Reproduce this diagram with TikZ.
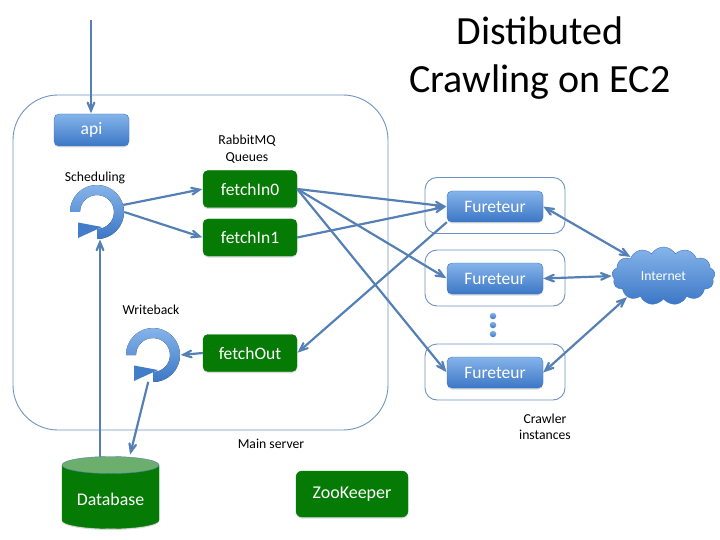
\documentclass[tikz,border=0pt]{standalone}
\usepackage{fontspec}
\setmainfont{Carlito}
\usepackage{xcolor}
\usetikzlibrary{arrows}
\usetikzlibrary{shadows}
\usetikzlibrary{shapes.symbols}
\definecolor{linkblue}{HTML}{5580B5}
\definecolor{boxgreen}{HTML}{057A05}
\definecolor{lidgreen}{HTML}{6CAE6C}
\definecolor{toplight}{HTML}{85B4EA}
\definecolor{botdark}{HTML}{3C77C6}
\tikzset{
  softshadow/.style={drop shadow={opacity=.3,shadow xshift=0pt,shadow yshift=-1.5pt}},
  queue/.style={draw=boxgreen,fill=boxgreen,rounded corners=5,text=white,font=\fontsize{17.5}{17.5}\selectfont,
    minimum width=94,minimum height=37,inner sep=0,softshadow},
  worker/.style={top color=toplight,bottom color=botdark,draw=botdark,rounded corners=5,text=white,
    font=\fontsize{17.5}{17.5}\selectfont,minimum width=96,minimum height=31,inner sep=0,softshadow},
  frame/.style={draw=linkblue!85,fill=white,line width=0.9,rounded corners=12,minimum width=140,minimum height=56,inner sep=0},
  note/.style={align=center,font=\fontsize{13.7}{16.5}\selectfont,inner sep=0},
  dotty/.style={circle,top color=toplight,bottom color=botdark,minimum size=6.5,inner sep=0},
  link/.style={draw=linkblue,line width=2.2,->,>=angle 45,shorten >=0.5},
  twolink/.style={link,<->},
  cyc/.pic={
    \fill[top color=toplight,bottom color=botdark]
      (-27,0) arc[start angle=180,end angle=450,radius=27]
      -- (0,17) arc[start angle=450,end angle=180,radius=17] -- cycle;
    \fill[botdark!90!toplight] (-19,10.5) -- (5,15) -- (-19,26) -- cycle;
  },
}
\begin{document}
\begin{tikzpicture}[x=1pt,y=-1pt]
    \useasboundingbox (0,0) rectangle (720,540);
    %
    \node[draw=linkblue!85,line width=0.9,rounded corners=45,minimum width=375,minimum height=335,inner sep=0] (mainbox) at (200.5,262.5) {};
    \node[frame] (slot1) at (495,205.5) {};
    \node[frame] (slot2) at (495,278) {};
    \node[frame] (slot3) at (495,372) {};
    %
    \node[align=center,font=\fontsize{40}{48}\selectfont,inner sep=0] (title) at (540,58) {Distibuted\\Crawling on EC2};
    \node[note] (rabbit) at (247,149) {RabbitMQ\\Queues};
    \node[note] (schedtxt) at (95,178) {Scheduling};
    \node[note] (writetxt) at (151,310) {Writeback};
    \node[note] (maintxt) at (271,444) {Main server};
    \node[note] (crawltxt) at (545,427) {Crawler\\instances};
    %
    \node[worker,minimum width=75,minimum height=32] (api) at (91.5,130) {api};
    \node[queue] (fetchIn0) at (250,189) {fetchIn0};
    \node[queue] (fetchIn1) at (250,237.5) {fetchIn1};
    \node[queue] (fetchOut) at (250,353) {fetchOut};
    \node[queue,rounded corners=6,minimum width=112,minimum height=46,font=\fontsize{18}{18}\selectfont] (zoo) at (352,494) {ZooKeeper};
    \node[worker] (fur1) at (495,206.5) {Fureteur};
    \node[worker] (fur2) at (495,278.5) {Fureteur};
    \node[worker] (fur3) at (495,372.5) {Fureteur};
    \node[dotty] (dot1) at (493,316) {};
    \node[dotty] (dot2) at (493,325) {};
    \node[dotty] (dot3) at (493,334) {};
    %
    \draw[draw=boxgreen,fill=boxgreen,softshadow] (62,465) -- (62,520)
      arc[start angle=180,end angle=0,x radius=48.5,y radius=8.5] -- (159,465) -- cycle;
    \draw[draw=linkblue,fill=lidgreen] (110.5,465) ellipse [x radius=48.5,y radius=8.5];
    \node[text=white,font=\fontsize{17.8}{17.8}\selectfont,inner sep=0] (db) at (110.5,499) {Database};
    \node[cloud,cloud puffs=13,cloud puff arc=120,aspect=1.9,minimum width=103,minimum height=58,inner sep=0,
      top color=toplight,bottom color=botdark,draw=botdark,text=white,font=\fontsize{13.7}{14}\selectfont] (net) at (663.5,276) {Internet};
    %
    \node[circle,minimum size=54,inner sep=0] (sched) at (97,212) {};
    \node[circle,minimum size=54,inner sep=0] (wback) at (153,355) {};
    \pic at (sched) {cyc};
    \pic at (wback) {cyc};
    %
    \coordinate (entry) at (91,20);
    \coordinate (upfoot) at (100,457);
    \coordinate (uptip) at (100,239);
    \coordinate (downtip) at (130,455);
    \draw[link] (entry) -- (api.north -| entry);
    \draw[link] (sched.15) -- (fetchIn0.west);
    \draw[link] (sched.0) -- (fetchIn1.west);
    \draw[link] (upfoot) -- (uptip);
    \draw[link] (fetchOut.west) -- (wback.east);
    \draw[link] (wback.-100) -- (downtip);
    %
    \draw[link] (fetchIn0.east) -- (fur1.west);
    \draw[link] (fetchIn1.east) -- (fur1.west);
    \draw[link] (fetchIn0.east) -- (fur2.west);
    \draw[link] (fetchIn0.east) -- (fur3.west);
    \draw[link] (fur1.south west) -- (fetchOut.east);
    %
    \draw[twolink] (fur1.east) -- (net.150);
    \draw[twolink] (fur2.east) -- (net.west);
    \draw[twolink] (fur3.east) -- (net.210);
\end{tikzpicture}
\end{document}
